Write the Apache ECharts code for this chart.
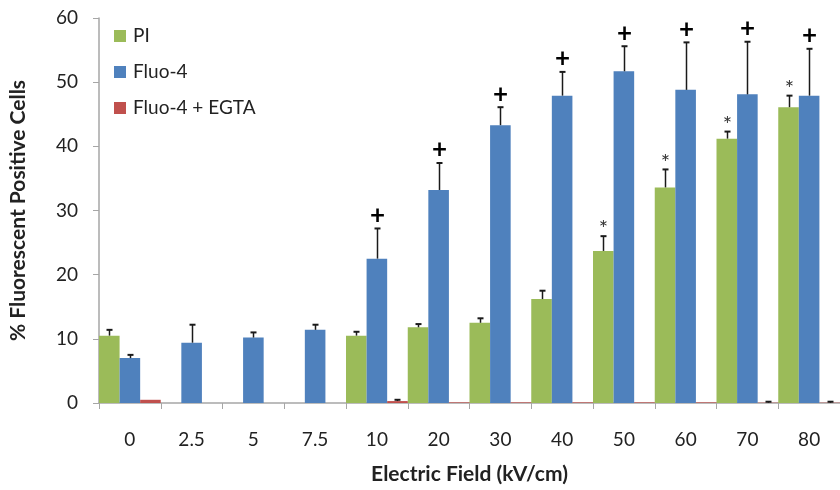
<!DOCTYPE html>
<html>
<head>
<meta charset="utf-8">
<script src="https://cdn.jsdelivr.net/npm/echarts@6/dist/echarts.min.js"></script>
<style>html,body{margin:0;padding:0;background:#fff}#c{width:840px;height:490px}</style>
</head>
<body>
<div id="c"></div>
<script>
const categories = ['0','2.5','5','7.5','10','20','30','40','50','60','70','80'];
const piValues   = [10.5, null, null, null, 10.5, 11.8, 12.5, 16.2, 23.7, 33.6, 41.2, 46.1];
const piErrors   = [0.9, null, null, null, 0.6, 0.5, 0.7, 1.3, 2.3, 2.8, 1.1, 1.8];
const piMarks    = ['', '', '', '', '', '', '', '', '*', '*', '*', '*'];
const fluoValues = [7.0, 9.4, 10.2, 11.4, 22.5, 33.2, 43.3, 47.9, 51.7, 48.8, 48.1, 47.9];
const fluoErrors = [0.5, 2.8, 0.8, 0.8, 4.7, 4.2, 2.8, 3.7, 3.9, 7.4, 8.2, 7.3];
const fluoMarks  = ['', '', '', '', '+', '+', '+', '+', '+', '+', '+', '+'];
const egtaValues = [0.5, null, null, null, 0.3, 0.1, 0.1, 0.1, 0.1, 0.1, 0.05, 0.05];
const egtaErrors = [null, null, null, null, 0.2, null, null, null, null, null, 0.15, 0.15];
const egtaMarks  = ['', '', '', '', '', '', '', '', '', '', '', ''];
const yTicks = [0, 10, 20, 30, 40, 50, 60];

const FONT = 'Lato, "Open Sans", sans-serif';
const COLORS = ['#9BBB59', '#4F81BD', '#C0504D'];

function errData(vals, errs) {
  const out = [];
  vals.forEach((v, i) => {
    if (v != null && errs[i] != null) out.push([i, v, errs[i]]);
  });
  return out;
}

function makeRender(slot, marks) {
  return function (params, api) {
    const idx = api.value(0);
    const v = api.value(1);
    const e = api.value(2);
    const mark = marks[idx] || '';
    const band = api.size([1, 0])[0];
    const w = band / 3;
    const base = api.coord([idx, v]);
    const top = api.coord([idx, v + e]);
    const cx = Math.round(base[0] + (slot - 1) * w) + 0.5;
    const children = [
      { type: 'line', shape: { x1: cx, y1: base[1], x2: cx, y2: top[1] }, style: { stroke: '#1a1a1a', lineWidth: 1.5 } },
      { type: 'line', shape: { x1: cx - 3, y1: top[1], x2: cx + 3, y2: top[1] }, style: { stroke: '#1a1a1a', lineWidth: 2 } }
    ];
    if (mark === '+') {
      children.push({ type: 'text', style: { text: '+', x: cx, y: top[1] - 13, align: 'center', verticalAlign: 'middle', font: 'bold 26px ' + FONT, fill: '#000' } });
    } else if (mark === '*') {
      children.push({ type: 'text', style: { text: '*', x: cx, y: top[1] - 7, align: 'center', verticalAlign: 'middle', font: '22px ' + FONT, fill: '#333' } });
    }
    return { type: 'group', children: children };
  };
}

const chart = echarts.init(document.getElementById('c'), null, { renderer: 'canvas' });
chart.setOption({
  animation: false,
  color: COLORS,
  textStyle: { fontFamily: FONT },
  legend: {
    orient: 'vertical',
    left: 109,
    top: 20,
    itemWidth: 12,
    itemHeight: 12,
    itemGap: 14,
    data: ['PI', 'Fluo-4', 'Fluo-4 + EGTA'],
    textStyle: { fontSize: 19, color: '#222', fontFamily: FONT, lineHeight: 22, padding: [0, 0, 0, 2] },
    icon: 'rect'
  },
  grid: { left: 97, top: 18, width: 751, height: 386, containLabel: false },
  xAxis: {
    type: 'category',
    data: categories,
    boundaryGap: true,
    axisLine: { lineStyle: { color: '#A6A6A6', width: 1.5 } },
    axisTick: { show: true, length: 6, lineStyle: { color: '#A6A6A6' } },
    axisLabel: { fontSize: 19, color: '#222', margin: 27, fontFamily: FONT },
    name: 'Electric Field (kV/cm)',
    nameLocation: 'middle',
    nameGap: 61,
    nameTextStyle: { fontSize: 21, fontWeight: 'bold', color: '#222', fontFamily: FONT, verticalAlign: 'top' }
  },
  yAxis: {
    type: 'value',
    min: yTicks[0],
    max: yTicks[yTicks.length - 1],
    interval: 10,
    axisLine: { show: true, lineStyle: { color: '#A6A6A6', width: 1.5 } },
    axisTick: { show: true, length: 6, lineStyle: { color: '#A6A6A6' } },
    splitLine: { show: false },
    axisLabel: { fontSize: 19, color: '#222', margin: 21, fontFamily: FONT },
    name: '% Fluorescent Positive Cells',
    nameLocation: 'middle',
    nameGap: 70,
    nameRotate: 90,
    nameTextStyle: { fontSize: 21, fontWeight: 'bold', color: '#222', fontFamily: FONT }
  },
  series: [
    { name: 'PI', type: 'bar', data: piValues, barGap: '0%', barCategoryGap: '0%', itemStyle: { color: COLORS[0] } },
    { name: 'Fluo-4', type: 'bar', data: fluoValues, barGap: '0%', barCategoryGap: '0%', itemStyle: { color: COLORS[1] } },
    { name: 'Fluo-4 + EGTA', type: 'bar', data: egtaValues, barGap: '0%', barCategoryGap: '0%', itemStyle: { color: COLORS[2] } },
    { type: 'custom', renderItem: makeRender(0, piMarks), data: errData(piValues, piErrors), z: 5, encode: { x: 0, y: 1 } },
    { type: 'custom', renderItem: makeRender(1, fluoMarks), data: errData(fluoValues, fluoErrors), z: 5, encode: { x: 0, y: 1 } },
    { type: 'custom', renderItem: makeRender(2, egtaMarks), data: errData(egtaValues, egtaErrors), z: 5, encode: { x: 0, y: 1 } }
  ]
});
</script>
</body>
</html>
